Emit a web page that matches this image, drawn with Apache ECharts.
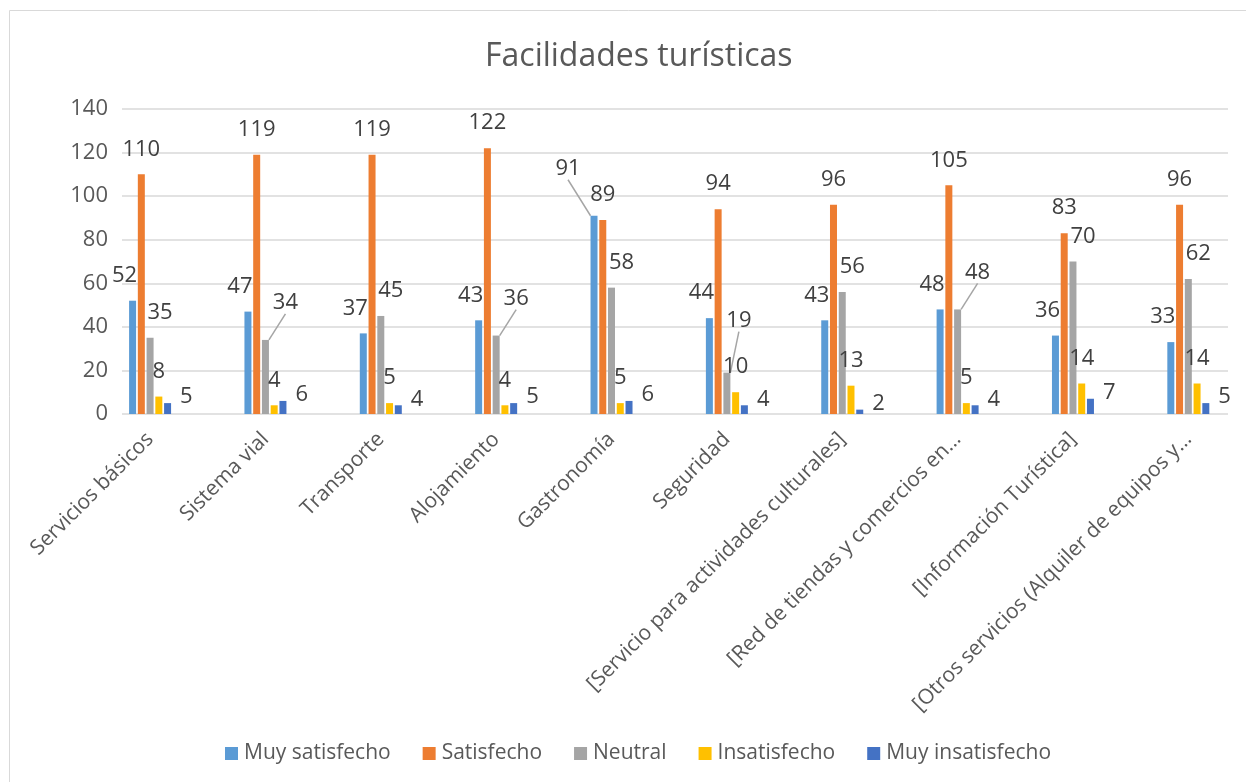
<!DOCTYPE html>
<html>
<head>
<meta charset="utf-8">
<script src="https://cdn.jsdelivr.net/npm/echarts@6/dist/echarts.min.js"></script>
<style>
  html, body { margin: 0; padding: 0; background: #fff; }
  #main { width: 1246px; height: 782px; }
</style>
</head>
<body>
<div id="main"></div>
<script>
// datos
const categories = [
  "Servicios básicos", "Sistema vial", "Transporte", "Alojamiento", "Gastronomía",
  "Seguridad", "[Servicio para actividades culturales]", "[Red de tiendas y comercios en…",
  "[Información Turística]", "[Otros servicios (Alquiler de equipos y…"
];
const muySatisfecho   = [52, 47, 37, 43, 91, 44, 43, 48, 36, 33];
const satisfecho      = [110, 119, 119, 122, 89, 94, 96, 105, 83, 96];
const neutral         = [35, 34, 45, 36, 58, 19, 56, 48, 70, 62];
const insatisfecho    = [8, 4, 5, 4, 5, 10, 13, 5, 14, 14];
const muyInsatisfecho = [5, 6, 4, 5, 6, 4, 2, 4, 7, 5];
const yTicks = [0, 20, 40, 60, 80, 100, 120, 140];

const FONT = "Open Sans";
const labelBase = { show: true, fontFamily: FONT, fontSize: 22, color: "#404040" };
const leaderStyle = { color: "#a5a5a5", width: 1.5 };

// desplazamiento de etiquetas que chocan con la vecina: [dx, dy, con línea guía]
function blueShift(i) {
  if (Math.abs(muySatisfecho[i] - satisfecho[i]) < 10) return [-26, -22, true];
  return [-8, 0, false];
}
function grayShift(i) {
  const d = muySatisfecho[i] - neutral[i];
  if (d >= 0 && d < 15) return [20, -12, true];
  if (neutral[i] - insatisfecho[i] < 10) return [12, -27, true];
  return [10, 0, false];
}

function withLeaders(values, shift) {
  return values.map(function (v, i) {
    return { value: v, labelLine: { show: shift(i)[2], lineStyle: leaderStyle } };
  });
}
function layoutFrom(shift) {
  return function (p) {
    const s = shift(p.dataIndex);
    return { dx: s[0], dy: s[1] };
  };
}

function barSeries(name, data, color, label, extra) {
  return Object.assign({
    name: name,
    type: "bar",
    xAxisIndex: 1,
    yAxisIndex: 1,
    data: data,
    barWidth: 7,
    barGap: "25%",
    itemStyle: { color: color },
    label: Object.assign({}, labelBase, label)
  }, extra || {});
}

const myChart = echarts.init(document.getElementById("main"));
const option = {
  animation: false,
  textStyle: { fontFamily: FONT },
  title: {
    text: "Facilidades turísticas",
    left: 480,
    top: 36,
    textStyle: { fontFamily: FONT, fontSize: 32, fontWeight: "normal", color: "#595959" }
  },
  legend: {
    bottom: 13,
    left: 220,
    icon: "rect",
    itemWidth: 13,
    itemHeight: 13,
    itemGap: 32,
    textStyle: { fontFamily: FONT, fontSize: 21, color: "#595959", padding: [0, 0, 0, 1] }
  },
  graphic: [{
    type: "rect",
    shape: { x: 9.5, y: 10.5, width: 1400, height: 900 },
    style: { fill: "none", stroke: "#d9d9d9", lineWidth: 1 },
    silent: true
  }],
  // grid 0: líneas de cuadrícula y eje Y; grid 1: barras y categorías
  grid: [
    { left: 122, right: 18, top: 109, bottom: 368 },
    { left: 92.4, right: -11.6, top: 109, bottom: 368 }
  ],
  xAxis: [
    { gridIndex: 0, type: "category", data: categories, show: false },
    {
      gridIndex: 1,
      type: "category",
      data: categories,
      axisLine: { show: false },
      axisTick: { show: false },
      axisLabel: { rotate: 45, margin: 22, fontFamily: FONT, fontSize: 21, color: "#595959", interval: 0 }
    }
  ],
  yAxis: [
    {
      gridIndex: 0,
      type: "value",
      min: yTicks[0],
      max: yTicks[yTicks.length - 1],
      interval: yTicks[1] - yTicks[0],
      axisLine: { show: false },
      axisTick: { show: false },
      splitLine: { lineStyle: { color: "#d9d9d9", width: 1.5 } },
      axisLabel: { margin: 14, fontFamily: FONT, fontSize: 22, color: "#595959" }
    },
    {
      gridIndex: 1,
      type: "value",
      min: yTicks[0],
      max: yTicks[yTicks.length - 1],
      show: false
    }
  ],
  series: [
    barSeries("Muy satisfecho", withLeaders(muySatisfecho, blueShift), "#5B9BD5",
      { position: "top", distance: 14 },
      { labelLayout: layoutFrom(blueShift), labelLine: { show: false, lineStyle: leaderStyle } }),
    barSeries("Satisfecho", satisfecho, "#ED7D31", { position: "top", distance: 14 }),
    barSeries("Neutral", withLeaders(neutral, grayShift), "#A5A5A5",
      { position: "top", distance: 14 },
      { labelLayout: layoutFrom(grayShift), labelLine: { show: false, lineStyle: leaderStyle } }),
    barSeries("Insatisfecho", insatisfecho, "#FFC000", { position: "top", distance: 14 }),
    barSeries("Muy insatisfecho", muyInsatisfecho, "#4472C4",
      { position: ["100%", 0], align: "left", verticalAlign: "middle", offset: [9, -6] })
  ]
};
option && myChart.setOption(option);
</script>
</body>
</html>
